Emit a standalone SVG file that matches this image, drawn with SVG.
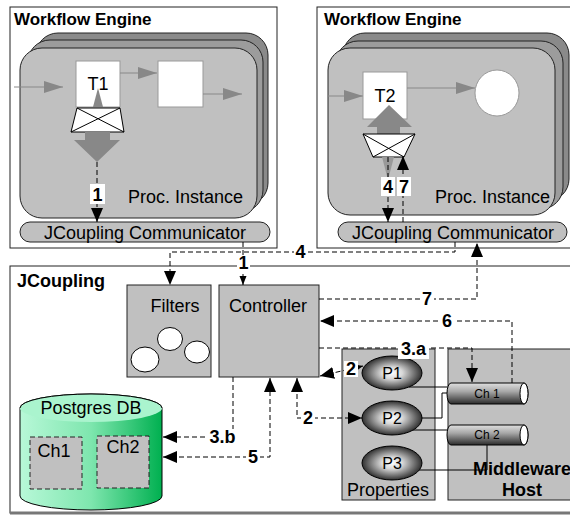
<svg xmlns="http://www.w3.org/2000/svg" width="570" height="516" viewBox="0 0 570 516">
<style>
text{font-family:"Liberation Sans",Arial,sans-serif;fill:#000}
.ttl{font-size:17px;font-weight:bold}
.t18{font-size:18px}
.mid{text-anchor:middle}
.lbl{font-size:18px;font-weight:bold;text-anchor:middle}
.box{stroke:#222;stroke-width:1}
.gray{fill:#c0c0c0;stroke:#222;stroke-width:1}
.dash{fill:none;stroke:#000;stroke-width:1;stroke-dasharray:5,3}
.solid{fill:none;stroke:#000;stroke-width:1}
.flow{fill:none;stroke:#888;stroke-width:1}
.lb{fill:#fff}
</style>
<defs>
<marker id="ah" markerUnits="userSpaceOnUse" markerWidth="15" markerHeight="12" refX="14" refY="6" orient="auto-start-reverse"><path d="M0,0 L14,6 L0,12 z" fill="#000"/></marker>
<marker id="ahs" markerUnits="userSpaceOnUse" markerWidth="10" markerHeight="8" refX="9" refY="3.5" orient="auto"><path d="M0,0 L9,3.5 L0,7 z" fill="#000"/></marker>
<marker id="ga" markerUnits="userSpaceOnUse" markerWidth="20" markerHeight="12" refX="19" refY="6" orient="auto"><path d="M0,0 L19,6 L0,12 z" fill="#888"/></marker>
<linearGradient id="pg" x1="0" y1="0" x2="1" y2="0"><stop offset="0" stop-color="#b8f8d8"/><stop offset="0.5" stop-color="#7ee6ae"/><stop offset="1" stop-color="#00b050"/></linearGradient>
<radialGradient id="pe" cx="0.5" cy="0.5" r="0.5"><stop offset="0" stop-color="#ffffff"/><stop offset="0.35" stop-color="#d8d8d8"/><stop offset="1" stop-color="#303030"/></radialGradient>
<linearGradient id="cg" x1="0" y1="0" x2="0" y2="1"><stop offset="0" stop-color="#e0e0e0"/><stop offset="0.4" stop-color="#a8a8a8"/><stop offset="1" stop-color="#2a2a2a"/></linearGradient>
</defs>

<g id="wf1">
<rect x="10" y="7" width="267" height="241" fill="#fff" class="box"/>
<text x="14" y="25" class="ttl">Workflow Engine</text>
<rect x="36" y="33" width="232" height="172" rx="22" fill="#8a8a8a" class="box"/>
<rect x="28" y="40" width="235" height="172" rx="22" fill="#9c9c9c" class="box"/>
<rect x="20" y="48" width="237" height="170" rx="22" fill="#c0c0c0" class="box"/>
<line x1="14" y1="87" x2="63" y2="87" class="flow" marker-end="url(#ga)"/>
<rect x="76" y="61" width="44" height="46" fill="#fff" stroke="#999"/>
<text x="98" y="90" class="t18 mid">T1</text>
<line x1="120" y1="73" x2="157" y2="73" class="flow" marker-end="url(#ga)"/>
<rect x="158" y="61" width="45" height="46" fill="#fff" stroke="#999"/>
<line x1="203" y1="94" x2="242" y2="94" class="flow" marker-end="url(#ga)"/>
<polygon points="93,107 103,107 98,88" fill="#888"/>
<polygon points="77,108 120,108 124,132 71,132" fill="#fff" stroke="#000"/>
<path d="M77,108 L124,132 M120,108 L71,132" stroke="#000" fill="none"/>
<polygon points="85,132 110,132 110,140 120,140 97,162 74,140 85,140" fill="#888"/>
<text x="128" y="203" class="t18">Proc. Instance</text>
<rect x="20" y="222" width="250" height="20" rx="10" class="gray"/>
<text x="145" y="239" class="t18 mid">JCoupling Communicator</text>
</g>

<g id="wf2">
<rect x="317" y="7" width="270" height="241" fill="#fff" class="box"/>
<text x="324" y="25" class="ttl">Workflow Engine</text>
<rect x="343" y="33" width="226" height="168" rx="22" fill="#8a8a8a" class="box"/>
<rect x="336" y="41" width="227" height="168" rx="22" fill="#9c9c9c" class="box"/>
<rect x="328" y="48" width="227" height="167" rx="22" fill="#c0c0c0" class="box"/>
<line x1="328" y1="96" x2="363" y2="96" class="flow" marker-end="url(#ga)"/>
<rect x="363" y="72" width="44" height="47" fill="#fff" stroke="#999"/>
<text x="385" y="102" class="t18 mid">T2</text>
<line x1="407" y1="88" x2="475" y2="88" class="flow" marker-end="url(#ga)"/>
<ellipse cx="497" cy="93" rx="22" ry="23" fill="#fff" stroke="#999"/>
<polygon points="377,134 400,134 400,127 412,127 389,105 367,127 377,127" fill="#888"/>
<polygon points="363,134 415,134 404,157 373,157" fill="#fff" stroke="#000"/>
<path d="M363,134 L404,157 M415,134 L373,157" stroke="#000" fill="none"/>
<polygon points="382,157 394,157 388,180" fill="#999"/>
<text x="435" y="203" class="t18">Proc. Instance</text>
<rect x="338" y="222" width="229" height="20" rx="10" class="gray"/>
<text x="453" y="239" class="t18 mid">JCoupling Communicator</text>
</g>

<g id="jcoupling">
<rect x="10" y="266" width="580" height="247" fill="#fff" class="box"/>
<line x1="10" y1="513" x2="570" y2="513" stroke="#777" stroke-width="3"/>
<text x="17" y="287" class="t18" font-weight="bold">JCoupling</text>
</g>

<g id="filters">
<rect x="127" y="285" width="84" height="92" class="gray"/>
<text x="175" y="312" class="t18 mid">Filters</text>
<ellipse cx="170" cy="339" rx="12.5" ry="11.5" fill="#fff" stroke="#000"/>
<ellipse cx="145" cy="359.5" rx="14" ry="12.5" fill="#fff" stroke="#000"/>
<ellipse cx="197" cy="352" rx="12.5" ry="11" fill="#fff" stroke="#000"/>
</g>

<g id="controller">
<rect x="219" y="285" width="100" height="92" class="gray"/>
<text x="268" y="312" class="t18 mid">Controller</text>
</g>

<g id="postgres">
<path d="M20,408 V496 A71,14 0 0 0 162,496 V408 A71,14 0 0 0 20,408 Z" fill="url(#pg)" stroke="#000"/>
<path d="M20,408 A71,14 0 0 1 162,408 A71,14 0 0 1 20,408 Z" fill="#aaf4ce"/>
<path d="M20,408 A71,14 0 0 1 162,408" fill="none" stroke="#000"/>
<text x="91" y="414" class="t18 mid">Postgres DB</text>
<rect x="30" y="437" width="52" height="52" fill="#c0c0c0" stroke="#222" stroke-dasharray="5,3"/>
<text x="54" y="457" class="t18 mid">Ch1</text>
<rect x="97" y="436" width="52" height="52" fill="#c0c0c0" stroke="#222" stroke-dasharray="5,3"/>
<text x="123" y="453" class="t18 mid">Ch2</text>
</g>

<g id="properties">
<rect x="342" y="349" width="93" height="151" class="gray"/>
<text x="388" y="496" class="t18 mid">Properties</text>
</g>

<g id="middleware">
<rect x="448" y="349" width="140" height="151" class="gray"/>
<text x="522" y="475" class="t18 mid" font-weight="bold">Middleware</text>
<text x="522" y="496" class="t18 mid" font-weight="bold">Host</text>
</g>

<g id="links">
<path d="M409,387 H447 M420,418 H442 V393 H447 M413,430 H447 M419,470 H487 V445" class="solid"/>
</g>

<g id="p1"><ellipse cx="392" cy="373" rx="30" ry="17" fill="url(#pe)" stroke="#000"/><text x="392" y="379" class="mid" font-size="16">P1</text></g>
<g id="p2"><ellipse cx="392" cy="418" rx="30" ry="17" fill="url(#pe)" stroke="#000"/><text x="392" y="424" class="mid" font-size="16">P2</text></g>
<g id="p3"><ellipse cx="392" cy="463" rx="30" ry="17" fill="url(#pe)" stroke="#000"/><text x="392" y="469" class="mid" font-size="16">P3</text></g>

<g id="ch1">
<path d="M451,383 H524 A4,10.5 0 0 1 524,404 H451 A4,10.5 0 0 1 451,383 Z" fill="url(#cg)" stroke="#000"/>
<ellipse cx="524" cy="393.5" rx="4" ry="10.5" fill="#fff" stroke="#000"/>
<text x="487" y="398" class="mid" font-size="12">Ch 1</text>
</g>
<g id="ch2">
<path d="M451,425 H524 A4,10 0 0 1 524,445 H451 A4,10 0 0 1 451,425 Z" fill="url(#cg)" stroke="#000"/>
<ellipse cx="524" cy="435" rx="4" ry="10" fill="#fff" stroke="#000"/>
<text x="487" y="439" class="mid" font-size="12">Ch 2</text>
</g>

<g id="connectors">
<path d="M97,162 V222" class="dash" marker-end="url(#ah)"/>
<path d="M388,157 V222" class="dash" marker-end="url(#ah)"/>
<path d="M403,222 V156" class="dash" marker-end="url(#ah)"/>
<path d="M243,242 V285" class="dash" marker-end="url(#ahs)"/>
<path d="M455,242 V252 H170 V285" class="dash" marker-end="url(#ah)"/>
<path d="M319,299 H477 V243" class="dash" marker-end="url(#ah)"/>
<path d="M512,383 V321 H320" class="dash" marker-end="url(#ah)"/>
<path d="M319,348 H472 V382" class="dash" marker-end="url(#ah)"/>
<path d="M320,376 L363,366" class="dash" marker-start="url(#ah)" marker-end="url(#ah)"/>
<path d="M297,378 V418 H362" class="dash" marker-start="url(#ah)" marker-end="url(#ah)"/>
<path d="M233,377 V437 H163" class="dash" marker-end="url(#ah)"/>
<path d="M163,457 H270 V378" class="dash" marker-start="url(#ah)" marker-end="url(#ah)"/>
</g>

<g id="labels">
<rect x="90" y="184" width="15" height="20" class="lb"/><text x="97.5" y="201" class="lbl">1</text>
<rect x="381" y="177" width="14" height="19" class="lb"/><text x="388" y="193" class="lbl">4</text>
<rect x="397" y="177" width="14" height="19" class="lb"/><text x="404" y="193" class="lbl">7</text>
<rect x="237" y="256" width="13" height="15" class="lb"/><text x="243.5" y="269" class="lbl">1</text>
<rect x="294" y="245" width="13" height="14" class="lb"/><text x="300.5" y="258" class="lbl">4</text>
<rect x="420" y="291" width="14" height="15" class="lb"/><text x="427" y="305" class="lbl">7</text>
<rect x="440" y="313" width="14" height="15" class="lb"/><text x="447" y="327" class="lbl">6</text>
<rect x="398" y="340" width="31" height="19" class="lb"/><text x="413.5" y="355" class="lbl">3.a</text>
<rect x="344" y="361" width="14" height="16" class="lb"/><text x="351" y="375" class="lbl">2</text>
<rect x="301" y="410" width="14" height="16" class="lb"/><text x="308" y="424" class="lbl">2</text>
<rect x="207" y="429" width="31" height="16" class="lb"/><text x="222.5" y="443" class="lbl">3.b</text>
<rect x="246" y="449" width="14" height="16" class="lb"/><text x="253" y="463" class="lbl">5</text>
</g>
</svg>
